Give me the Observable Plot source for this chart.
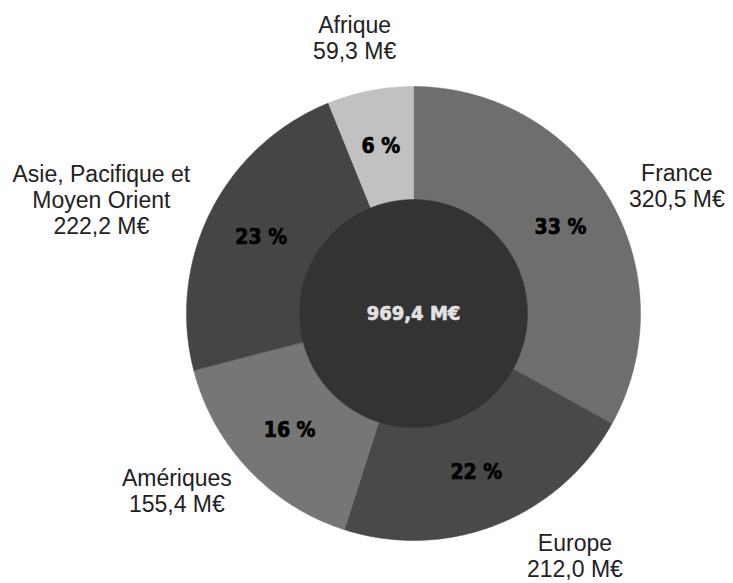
<!DOCTYPE html>
<html>
<head>
<meta charset="utf-8">
<script src="https://cdn.jsdelivr.net/npm/d3@7"></script>
<script src="https://cdn.jsdelivr.net/npm/@observablehq/plot@0.6"></script>
<style>
  html, body { margin: 0; padding: 0; background: #fff; }
  #chart svg { display: block; }
  .pct text { font-stretch: condensed; }
</style>
</head>
<body>
<div id="chart"></div>
<script>
// ---- data ----
const regions = ["France", "Europe", "Amériques", "Asie, Pacifique et\nMoyen Orient", "Afrique"];
const amounts = ["320,5 M€", "212,0 M€", "155,4 M€", "222,2 M€", "59,3 M€"];
const values = [320.5, 212.0, 155.4, 222.2, 59.3];
const percents = ["33 %", "22 %", "16 %", "23 %", "6 %"];
const totalLabel = "969,4 M€";

// ---- style ----
const palette = ["#6e6e6e", "#494949", "#767676", "#454545", "#c1c1c1"];
const W = 733, H = 583;
const R = 227;            // outer radius (px)
const cx = 413, cy = 313; // centre (px)
const inner = 0.502;      // centre disc radius (fraction of R)
const fontSize = 23, lineH = 26;

const pie = d3.pie().sort(null).startAngle(0).endAngle(2 * Math.PI)(values);

function wedge(a0, a1) {
  const pts = [{x: 0, y: 0}];
  const n = Math.max(4, Math.ceil((a1 - a0) / 0.01));
  for (let i = 0; i <= n; i++) {
    const a = a0 + (a1 - a0) * i / n;
    pts.push({x: Math.sin(a), y: Math.cos(a)});
  }
  pts.push({x: 0, y: 0});
  return pts;
}
function circle(r) {
  const pts = [];
  for (let i = 0; i <= 360; i++) {
    const a = i / 360 * 2 * Math.PI;
    pts.push({x: r * Math.sin(a), y: r * Math.cos(a)});
  }
  return pts;
}

// measure text for outer label layout
const ctx = document.createElement("canvas").getContext("2d");
ctx.font = fontSize + "px 'Liberation Sans'";
const clamp = (v, a, b) => Math.max(a, Math.min(b, v));

const pctData = [], outerData = [];
pie.forEach((p, i) => {
  const m = (p.startAngle + p.endAngle) / 2;
  const s = Math.sin(m), c = Math.cos(m);
  const rp = (inner + 1) / 2;
  pctData.push({x: rp * s, y: rp * c, t: percents[i]});
  const txt = regions[i] + "\n" + amounts[i];
  const lines = txt.split("\n");
  const w = d3.max(lines, l => ctx.measureText(l).width);
  const h = lines.length * lineH;
  // layout in pixel offsets from the centre (y downward)
  const ra = 250;
  let px = ra * s + (w / 2) * clamp(1.4 * s, -1, 1);
  let py = -ra * c - (h / 2) * 1.3 * Math.pow(c, 5);
  const maxY = (H - cy) - 2 - h / 2;
  if (py > maxY) {
    py = maxY;
    const dy = py - h / 2;
    const rc = 244;
    const dx = Math.sqrt(Math.max(0, rc * rc - dy * dy));
    px = Math.sign(s) * (dx + w / 2);
  }
  outerData.push({x: px / R, y: -py / R, t: txt});
});

const xDomain = [-cx / R, (W - cx) / R];
const yDomain = [-(H - cy) / R, cy / R];
const condensed = "'DejaVu Sans Condensed', 'DejaVu Sans', sans-serif";

const marks = pie.map((p, i) =>
  Plot.line(wedge(p.startAngle, p.endAngle), {x: "x", y: "y", fill: palette[i], stroke: palette[i], strokeWidth: 0.5, curve: "linear"})
);
marks.push(Plot.line(circle(inner), {x: "x", y: "y", fill: "#333333", stroke: "#333333", strokeWidth: 0.5}));
marks.push(Plot.text(pctData, {x: "x", y: "y", text: "t", fill: "#000", stroke: "#000", strokeWidth: 0.7, fontSize: 21, fontWeight: "bold", fontFamily: condensed, className: "pct"}));
marks.push(Plot.text([{x: 0, y: 0, t: totalLabel}], {x: "x", y: "y", text: "t", fill: "#e2e2e2", stroke: "#e2e2e2", strokeWidth: 0.6, fontSize: 20, fontWeight: "bold", fontFamily: condensed, className: "pct"}));
marks.push(Plot.text(outerData, {x: "x", y: "y", text: "t", fill: "#222", fontSize: fontSize, lineHeight: lineH / fontSize, lineAnchor: "middle", fontFamily: "'Liberation Sans', Arial, Helvetica, sans-serif"}));

const chart = Plot.plot({
  width: W, height: H,
  margin: 0,
  x: {domain: xDomain, range: [0, W], axis: null},
  y: {domain: yDomain, range: [H, 0], axis: null},
  style: {background: "#fff"},
  marks
});
document.getElementById("chart").appendChild(chart);
</script>
</body>
</html>
